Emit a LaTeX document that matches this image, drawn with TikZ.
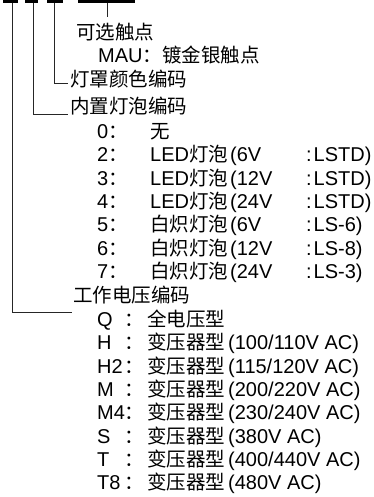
\documentclass[tikz,border=0pt]{standalone}
\usepackage{fontspec}
\setmainfont{Liberation Sans}
\newfontfamily\cjk{Noto Sans CJK SC}[Scale=0.975]
\newcommand{\zh}[1]{{\cjk #1}}

\begin{document}
\begin{tikzpicture}[x=1pt, y=-1pt, font=\fontsize{20}{24}\selectfont,
    txt/.style={anchor=west, inner sep=0pt, text height=14pt, text depth=0.4pt},
    conn/.style={line width=0.8pt, draw=black!85}]
    \useasboundingbox (0,0) rectangle (373,497);

    % code bars on top
    \fill (3,-2) rectangle (18,3);
    \fill (25,-2) rectangle (38,3);
    \fill (47,-2) rectangle (63,3);
    \fill (78,-2) rectangle (135,3);
    \coordinate (s1) at (12,3);
    \coordinate (s2) at (33,3);
    \coordinate (s3) at (54,3);
    \coordinate (s4) at (107,3);
    \coordinate (s4end) at (107,17);

    \node[txt] (option) at (76,33) {\zh{可选触点}};
    \node[txt] (mau) at (98,56) {MAU\zh{：镀金银触点}};
    \node[txt] (lens) at (70,80) {\zh{灯罩颜色编码}};
    \node[txt] (bulb) at (70,107) {\zh{内置灯泡编码}};

    \node[txt] (bulbzero) at (97,132) {\makebox[53pt][l]{0\zh{：}}\zh{无}};
    \node[txt] (bulbtwo) at (97,155) {\makebox[53pt][l]{2\zh{：}}\makebox[156pt][l]{LED\zh{灯泡}\hspace{2pt}(6V}:\hspace{2pt}LSTD)};
    \node[txt] (bulbthree) at (97,179) {\makebox[53pt][l]{3\zh{：}}\makebox[156pt][l]{LED\zh{灯泡}\hspace{2pt}(12V}:\hspace{2pt}LSTD)};
    \node[txt] (bulbfour) at (97,202) {\makebox[53pt][l]{4\zh{：}}\makebox[156pt][l]{LED\zh{灯泡}\hspace{2pt}(24V}:\hspace{2pt}LSTD)};
    \node[txt] (bulbfive) at (97,225) {\makebox[53pt][l]{5\zh{：}}\makebox[156pt][l]{\zh{白炽灯泡}\hspace{2pt}(6V}:\hspace{2pt}LS-6)};
    \node[txt] (bulbsix) at (97,249) {\makebox[53pt][l]{6\zh{：}}\makebox[156pt][l]{\zh{白炽灯泡}\hspace{2pt}(12V}:\hspace{2pt}LS-8)};
    \node[txt] (bulbseven) at (97,272) {\makebox[53pt][l]{7\zh{：}}\makebox[156pt][l]{\zh{白炽灯泡}\hspace{2pt}(24V}:\hspace{2pt}LS-3)};

    \node[txt] (volt) at (73,296) {\zh{工作电压编码}};
    \node[txt] (voltq) at (97,320) {\makebox[27pt][l]{Q}\makebox[23pt][l]{\zh{：}}\zh{全电压型}};
    \node[txt] (volth) at (97,343) {\makebox[27pt][l]{H}\makebox[23pt][l]{\zh{：}}\zh{变压器型}\hspace{3pt}(100/110V AC)};
    \node[txt] (volthtwo) at (97,367) {\makebox[27pt][l]{H2}\makebox[23pt][l]{\zh{：}}\zh{变压器型}\hspace{3pt}(115/120V AC)};
    \node[txt] (voltm) at (97,390) {\makebox[27pt][l]{M}\makebox[23pt][l]{\zh{：}}\zh{变压器型}\hspace{3pt}(200/220V AC)};
    \node[txt] (voltmfour) at (97,413) {\makebox[27pt][l]{M4}\makebox[23pt][l]{\zh{：}}\zh{变压器型}\hspace{3pt}(230/240V AC)};
    \node[txt] (volts) at (97,437) {\makebox[27pt][l]{S}\makebox[23pt][l]{\zh{：}}\zh{变压器型}\hspace{3pt}(380V AC)};
    \node[txt] (voltt) at (97,460) {\makebox[27pt][l]{T}\makebox[23pt][l]{\zh{：}}\zh{变压器型}\hspace{3pt}(400/440V AC)};
    \node[txt] (voltteight) at (97,483) {\makebox[27pt][l]{T8}\makebox[23pt][l]{\zh{：}}\zh{变压器型}\hspace{3pt}(480V AC)};

    \draw[conn] (s1) |- ([xshift=-1pt, yshift=-16pt]volt.west);
    \draw[conn] (s2) |- ([xshift=-2pt, yshift=-7pt]bulb.west);
    \draw[conn] (s3) |- ([xshift=-2pt, yshift=-3pt]lens.west);
    \draw[conn] (s4) -- (s4end);
\end{tikzpicture}
\end{document}
